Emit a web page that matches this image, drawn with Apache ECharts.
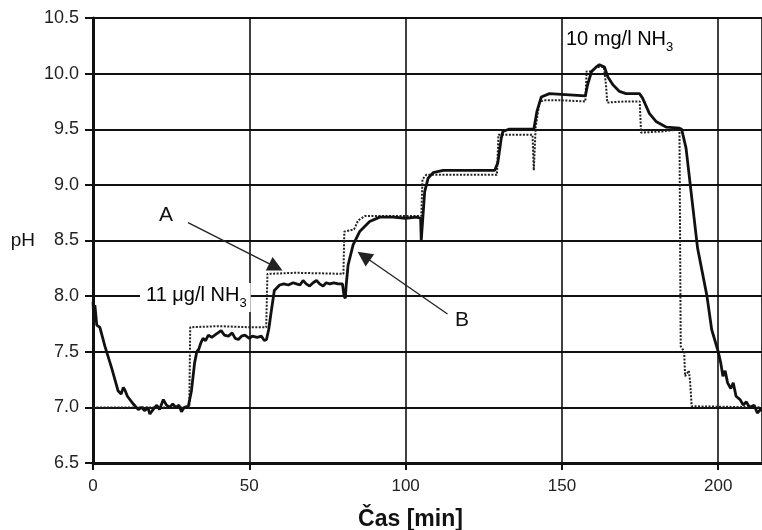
<!DOCTYPE html>
<html>
<head>
<meta charset="utf-8">
<script src="https://cdn.jsdelivr.net/npm/echarts@6/dist/echarts.min.js"></script>
<style>
html, body { margin: 0; padding: 0; background: #fff; }
#chart { width: 762px; height: 530px; }
</style>
</head>
<body>
<div id="chart"></div>
<script>
// values: [time min, pH]
var xTicks = [0, 50, 100, 150, 200];
var xMax = 214;
var yMin = 6.5, yMax = 10.5, yStep = 0.5;

// curve A (dotted trace)
var curveA = [
  [0, 7.0], [30.8, 7.0], [31.1, 7.72], [40, 7.73], [50, 7.72], [55.4, 7.72],
  [55.8, 8.2], [65, 8.21], [80.1, 8.2], [80.4, 8.58], [83.5, 8.6], [84.8, 8.68],
  [87, 8.72], [95, 8.72], [105, 8.72], [105.4, 9.05], [106.6, 9.09], [118, 9.09],
  [129.2, 9.09], [129.7, 9.45], [135, 9.45], [140.6, 9.45], [141, 9.13], [141.6, 9.52],
  [142.8, 9.74], [144, 9.76], [150, 9.76], [157.5, 9.75], [157.9, 10.02], [159.4, 10.02],
  [160.9, 10.06], [163.4, 10.06], [164.1, 9.9], [164.5, 9.74], [170, 9.75], [174.9, 9.75],
  [175.3, 9.47], [182, 9.48], [187.6, 9.5], [188, 7.55], [189.1, 7.5], [189.4, 7.28],
  [190.6, 7.33], [191, 7.23], [191.5, 7.01], [191.8, 7.0], [214, 7.0]
];

// curve B (solid trace)
var curveB = [
  [0, 7.95], [0.3, 7.78], [0.6, 7.92], [1.2, 7.74], [2.2, 7.72], [3.8, 7.55],
  [6, 7.35], [8, 7.15], [9, 7.12], [9.7, 7.18], [10.3, 7.15], [11, 7.1],
  [12.9, 7.03], [14.5, 6.98], [15.5, 7.0], [16.6, 6.97], [17.5, 7.0], [18.2, 6.94],
  [19.2, 6.98], [20.4, 7.02], [21.3, 6.98], [22.5, 7.07], [23.5, 7.02], [24.5, 7.0],
  [25.5, 7.03], [26.5, 7.0], [27.5, 7.02], [28.3, 6.96], [29.2, 7.0], [30.5, 7.01],
  [31.5, 7.15], [32.5, 7.4], [33.2, 7.5], [33.8, 7.52], [34.5, 7.58], [35.2, 7.62],
  [36, 7.6], [36.9, 7.65], [38, 7.63], [39.5, 7.66], [41, 7.69], [42, 7.65],
  [43.3, 7.64], [44.5, 7.67], [45.5, 7.62], [46.5, 7.61], [47.5, 7.64], [48.6, 7.65],
  [50, 7.62], [51, 7.64], [52.5, 7.63], [53.9, 7.64], [54.8, 7.6], [55.5, 7.61],
  [56.2, 7.7], [57, 7.86], [58, 8.05], [59.7, 8.1], [61, 8.11], [62.5, 8.1],
  [64, 8.12], [65.1, 8.11], [66.2, 8.1], [67.2, 8.14], [68.2, 8.11], [69.3, 8.09],
  [70.4, 8.12], [71.5, 8.14], [72.5, 8.11], [73.6, 8.09], [74.6, 8.12], [75.7, 8.11],
  [77, 8.12], [78.5, 8.11], [79.8, 8.11], [80.3, 8.0], [80.7, 7.98], [81, 8.1],
  [81.6, 8.28], [83.2, 8.46], [85.3, 8.58], [88.5, 8.67], [91.7, 8.71], [96, 8.71],
  [100, 8.7], [103.4, 8.71], [104.8, 8.7], [105, 8.5], [105.3, 8.5], [106.1, 8.94],
  [107.2, 9.06], [108.8, 9.11], [112, 9.13], [120, 9.13], [128.5, 9.13], [129.5, 9.2],
  [130.6, 9.42], [131.1, 9.48], [133, 9.5], [141, 9.5], [142, 9.66], [143.4, 9.79],
  [146, 9.82], [157.5, 9.8], [158.2, 9.9], [159.5, 10.02], [161, 10.06], [162, 10.08],
  [163.6, 10.06], [164.7, 9.97], [166.3, 9.9], [168.4, 9.84], [170.5, 9.82], [174.8, 9.82],
  [175.8, 9.78], [178, 9.64], [180.1, 9.57], [183.3, 9.52], [187.6, 9.51], [188.3, 9.5],
  [189.7, 9.33], [193.4, 8.43], [196.4, 8.0], [197.9, 7.7], [200, 7.5], [200.8, 7.4],
  [201.5, 7.28], [202.2, 7.33], [203, 7.22], [204, 7.17], [204.8, 7.22], [205.7, 7.1],
  [207, 7.07], [208, 7.02], [209, 7.05], [210, 7.0], [211.5, 7.02], [212.5, 6.95],
  [213.5, 6.98], [214, 6.97]
];

// arrows pointing to the curves: [start, end]
var arrowA = [[30.4, 8.66], [58.5, 8.26]];
var arrowB = [[113.4, 7.84], [86.6, 8.36]];

var font = 'Liberation Sans, Arial, sans-serif';
var chart = echarts.init(document.getElementById('chart'));

chart.setOption({
  animation: false,
  backgroundColor: '#fff',
  grid: {left: 93, right: 0, top: 18, bottom: 67, outerBoundsMode: 'none'},
  xAxis: {
    type: 'value',
    min: 0,
    max: xMax,
    interval: 50,
    name: 'Čas [min]',
    nameLocation: 'middle',
    nameGap: 45,
    // right padding pulls the centred title a bit to the left, as in the scan
    nameTextStyle: {fontFamily: font, fontSize: 23, fontWeight: 'bold', color: '#111', padding: [0, 34, 0, 0]},
    axisLine: {show: true, onZero: false, lineStyle: {color: '#111', width: 3}},
    axisTick: {show: true, length: 7, lineStyle: {color: '#111', width: 2}},
    axisLabel: {
      color: '#222', fontFamily: font, fontSize: 17, margin: 15, showMaxLabel: false,
      formatter: function (v) { return xTicks.indexOf(v) >= 0 ? String(v) : ''; }
    },
    splitLine: {show: true, lineStyle: {color: '#111', width: 1.6}}
  },
  yAxis: {
    type: 'value',
    min: yMin,
    max: yMax,
    interval: yStep,
    name: 'pH',
    nameLocation: 'middle',
    nameRotate: 0,
    nameGap: 58,
    nameTextStyle: {fontFamily: font, fontSize: 19, color: '#111'},
    axisLine: {show: true, lineStyle: {color: '#111', width: 3}},
    axisTick: {show: true, length: 8, lineStyle: {color: '#111', width: 2}},
    axisLabel: {
      color: '#222', fontFamily: font, fontSize: 18, margin: 14,
      formatter: function (v) { return v.toFixed(1); }
    },
    splitLine: {show: true, lineStyle: {color: '#111', width: 2}}
  },
  series: [
    {
      name: 'A',
      type: 'line',
      data: curveA,
      showSymbol: false,
      z: 3,
      lineStyle: {color: '#222', width: 2, type: [2, 1.5]},
      markLine: {
        silent: true,
        symbol: ['none', 'triangle'],
        symbolSize: 15,
        label: {show: false},
        lineStyle: {color: '#222', width: 1.3, type: 'solid'},
        data: [
          [{coord: arrowA[0]}, {coord: arrowA[1]}],
          [{coord: arrowB[0]}, {coord: arrowB[1]}]
        ]
      }
    },
    {
      name: 'B',
      type: 'line',
      data: curveB,
      showSymbol: false,
      z: 4,
      lineStyle: {color: '#111', width: 2.8}
    }
  ],
  graphic: [
    {
      type: 'text', left: 159, top: 205, z: 100,
      style: {text: 'A', font: '21px ' + font, fill: '#111'}
    },
    {
      type: 'text', left: 455, top: 310, z: 100,
      style: {text: 'B', font: '21px ' + font, fill: '#111'}
    },
    {
      type: 'text', left: 140, top: 283, z: 100,
      style: {
        text: '{m|11 μg/l NH}{s|3}',
        backgroundColor: '#fff',
        padding: [2, 4, 2, 6],
        rich: {
          m: {fontFamily: font, fontSize: 20, color: '#111', verticalAlign: 'bottom', padding: [0, 0, 5, 0]},
          s: {fontFamily: font, fontSize: 13, color: '#111', verticalAlign: 'bottom'}
        }
      }
    },
    {
      type: 'text', left: 566, top: 29, z: 100,
      style: {
        text: '{m|10 mg/l NH}{s|3}',
        rich: {
          m: {fontFamily: font, fontSize: 20, color: '#111', verticalAlign: 'bottom', padding: [0, 0, 5, 0]},
          s: {fontFamily: font, fontSize: 13, color: '#111', verticalAlign: 'bottom'}
        }
      }
    }
  ]
});
</script>
</body>
</html>
